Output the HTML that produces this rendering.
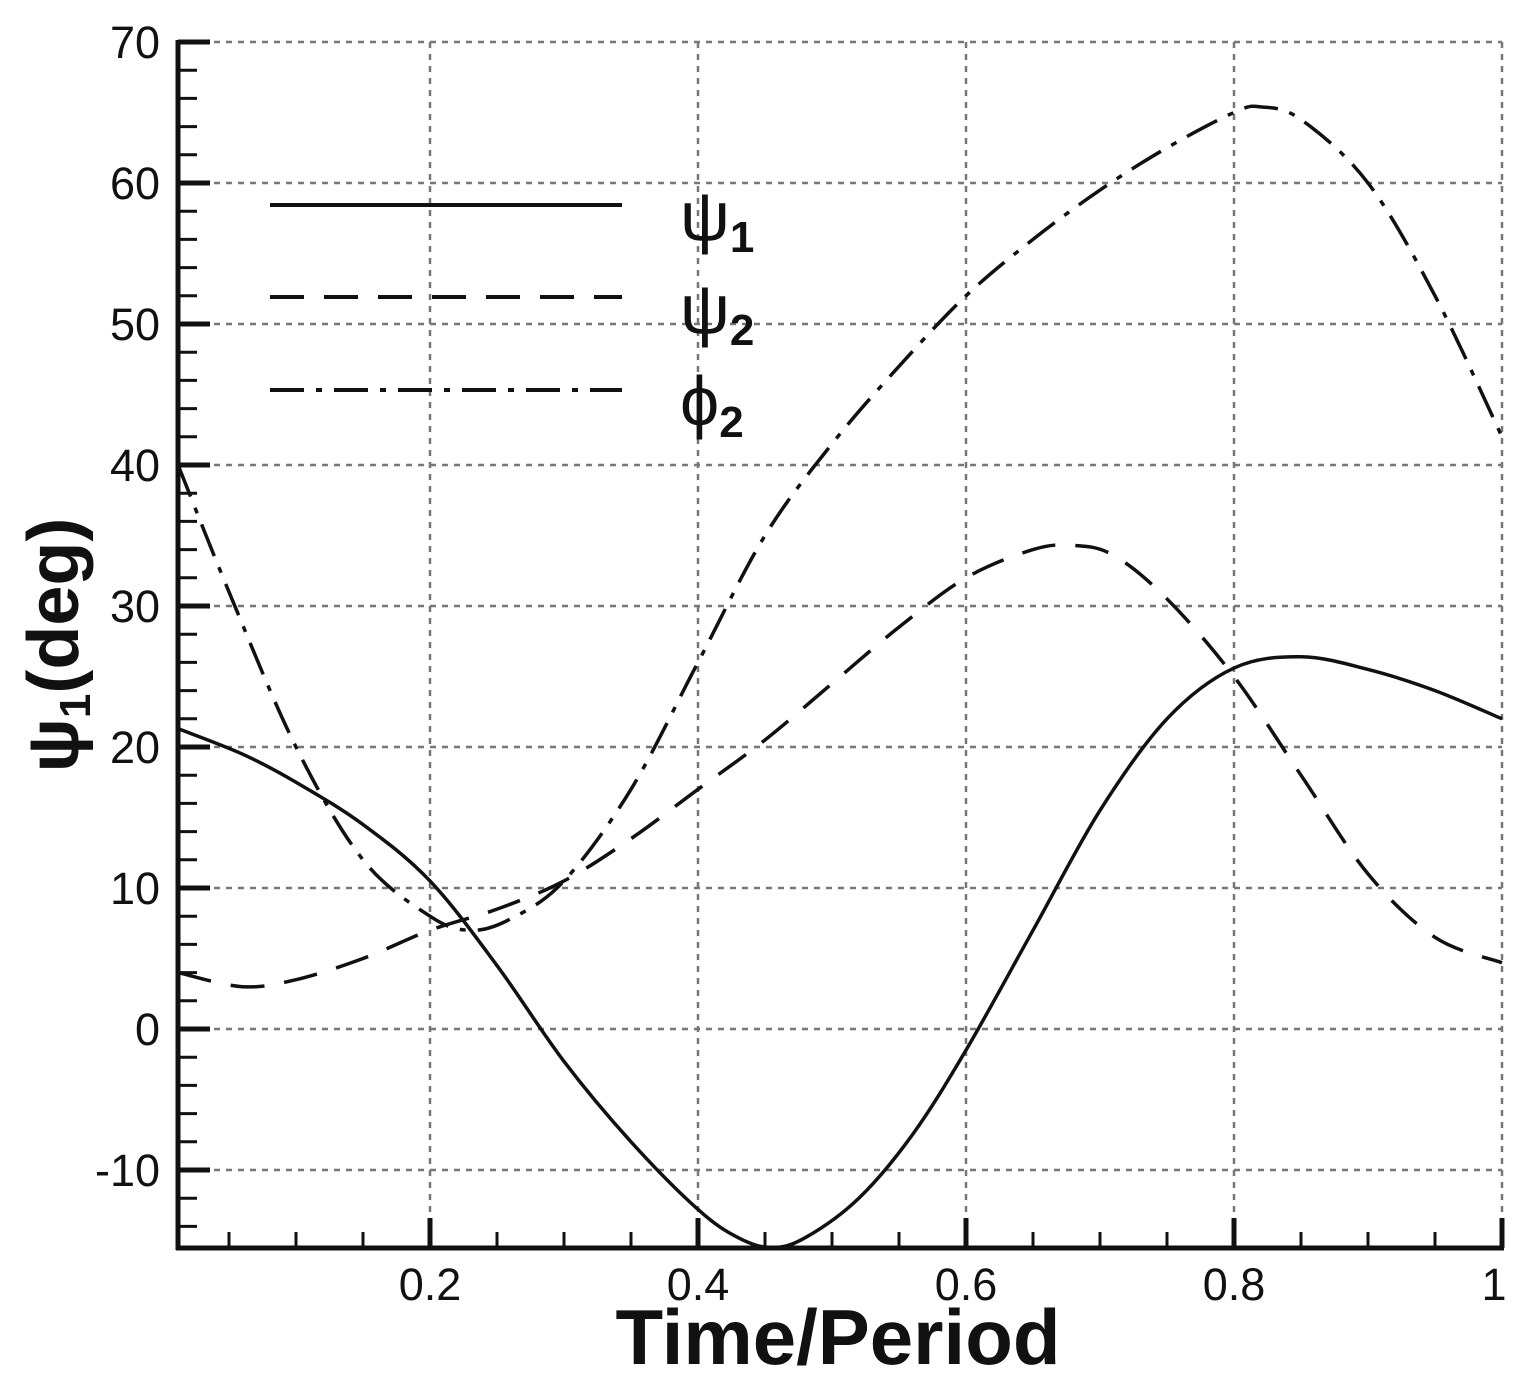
<!DOCTYPE html>
<html><head><meta charset="utf-8"><style>
html,body{margin:0;padding:0;background:#fff;}
svg{display:block;}
text{font-family:"Liberation Sans",sans-serif;fill:#111;}
</style></head><body>
<svg id="s" width="1528" height="1379" viewBox="0 0 1528 1379" xmlns="http://www.w3.org/2000/svg">
<g id="grid" stroke="#777" stroke-width="2.5" stroke-dasharray="6,6"></g>
<g id="ticks" stroke="#111"></g>
<g id="curves" fill="none" stroke="#111" stroke-width="3.5"></g>
<line x1="178" y1="40" x2="178" y2="1250" stroke="#111" stroke-width="5"/>
<line x1="176" y1="1248" x2="1504" y2="1248" stroke="#111" stroke-width="5"/>
<g id="labels" font-size="45" text-anchor="end" fill="#222"></g>
<!-- legend -->
<line x1="270" y1="205" x2="622" y2="205" stroke="#111" stroke-width="4"/>
<line x1="270" y1="297" x2="622" y2="297" stroke="#111" stroke-width="4" stroke-dasharray="34,20"/>
<line x1="270" y1="390" x2="622" y2="390" stroke="#111" stroke-width="4" stroke-dasharray="34,12,6,12"/>
<text x="680" y="240" font-size="70">ψ<tspan font-size="44" font-weight="bold" dy="12">1</tspan></text>
<text x="680" y="333" font-size="70">ψ<tspan font-size="44" font-weight="bold" dy="12">2</tspan></text>
<text x="680" y="425" font-size="70">ϕ<tspan font-size="44" font-weight="bold" dy="12">2</tspan></text>
<text x="838" y="1364" font-size="78" font-weight="bold" text-anchor="middle">Time/Period</text>
<text transform="translate(78,645) rotate(-90)" font-size="72" font-weight="bold" text-anchor="middle">ψ<tspan font-size="44" dy="12">1</tspan><tspan dy="-12">(deg)</tspan></text>
</svg>
<script>
var NS="http://www.w3.org/2000/svg";
function X(t){return 162+t*1340;}
function Y(v){return 1029-v*14.1;}
function el(p,tag,a){var e=document.createElementNS(NS,tag);for(var k in a)e.setAttribute(k,a[k]);p.appendChild(e);return e;}
var g=document.getElementById('grid'),tk=document.getElementById('ticks'),lb=document.getElementById('labels');
for(var v=-10;v<=70;v+=10){el(g,'line',{x1:178,y1:Y(v),x2:1502,y2:Y(v)});el(tk,'line',{x1:178,y1:Y(v),x2:210,y2:Y(v),'stroke-width':5});
 var t=el(lb,'text',{x:160,y:Y(v)+16});t.textContent=v;}
for(var v=-14;v<=70;v+=2){if(v%10)el(tk,'line',{x1:178,y1:Y(v),x2:197,y2:Y(v),'stroke-width':3});}
[0.2,0.4,0.6,0.8,1].forEach(function(t){el(g,'line',{x1:X(t),y1:42,x2:X(t),y2:1248});el(tk,'line',{x1:X(t),y1:1248,x2:X(t),y2:1218,'stroke-width':5});
 var tx=el(lb,'text',{x:X(t)+(t==1?-8:0),y:1300,'text-anchor':'middle'});tx.textContent=(t==1?'1':t.toFixed(1));});
for(var i=1;i<20;i++){if(i%4)el(tk,'line',{x1:X(i*0.05),y1:1248,x2:X(i*0.05),y2:1232,'stroke-width':3});}
function path(pts){var P=pts.map(function(p){return [X(p[0]),Y(p[1])];});var d='M'+P[0][0]+','+P[0][1];
 for(var i=0;i<P.length-1;i++){var p0=P[i-1]||P[i],p1=P[i],p2=P[i+1],p3=P[i+2]||P[i+1];
 d+=' C'+(p1[0]+(p2[0]-p0[0])/6)+','+(p1[1]+(p2[1]-p0[1])/6)+' '+(p2[0]-(p3[0]-p1[0])/6)+','+(p2[1]-(p3[1]-p1[1])/6)+' '+p2[0]+','+p2[1];}
 return d;}
var c=document.getElementById('curves');
el(c,'path',{d:path([[0.012,21.3],[0.06,19.5],[0.1,17.5],[0.15,14.5],[0.2,10.5],[0.25,4.5],[0.3,-2.3],[0.35,-8],[0.4,-12.8],[0.43,-14.8],[0.455,-15.5],[0.48,-14.8],[0.52,-12],[0.56,-7.5],[0.6,-1.5],[0.65,7],[0.7,15.5],[0.75,22],[0.8,25.6],[0.85,26.4],[0.9,25.5],[0.95,24],[1.0,22]])});
el(c,'path',{'stroke-dasharray':'34,20',d:path([[0.012,4],[0.06,3],[0.1,3.5],[0.15,5],[0.2,7],[0.25,8.5],[0.3,10.5],[0.35,13.5],[0.4,17],[0.45,20.5],[0.5,24.5],[0.55,28.5],[0.6,32],[0.65,34],[0.68,34.3],[0.71,33.6],[0.75,30.5],[0.8,25],[0.85,18],[0.9,11],[0.95,6.5],[1.0,4.7]])});
el(c,'path',{'stroke-dasharray':'34,12,6,12',d:path([[0.012,40],[0.05,31],[0.1,20],[0.15,12],[0.2,8],[0.23,7],[0.26,7.8],[0.3,10.5],[0.35,17],[0.4,26],[0.45,35],[0.5,41.5],[0.55,47],[0.6,52],[0.65,56],[0.7,59.5],[0.75,62.5],[0.8,65],[0.82,65.4],[0.85,64.5],[0.9,60],[0.95,52],[1.0,42]])});
</script>
</body></html>
